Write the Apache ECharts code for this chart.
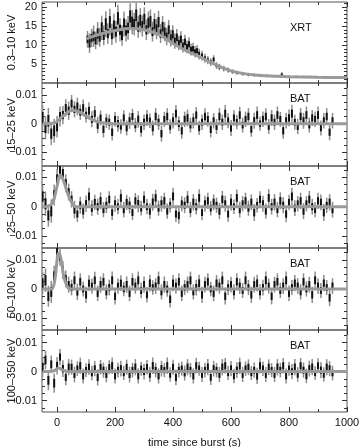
<!DOCTYPE html>
<html>
<head>
<meta charset="utf-8">
<script src="https://cdn.jsdelivr.net/npm/echarts@6/dist/echarts.min.js"></script>
<style>
  html, body { margin: 0; padding: 0; background: #fff; }
  #chart { width: 360px; height: 447px; }
</style>
</head>
<body>
<div id="chart"></div>
<script>
// XRT light curve (counts/s)
const xrtTime = [105,112,119,126,133,140,147,154,161,168,175,182,189,196,203,210,217,224,231,238,
  245,252,259,266,273,280,287,294,301,308,315,322,329,336,343,350,357,364,371,378,
  385,392,399,406,413,420,427,434,441,448,455,462,469,476,483,490,
  500,510,520,530,540,550,560,575,590,605,620,640,660,680,700,
  725,750,775,800,825,850,875,900,925,950]
const xrtRate = [11.5,10.5,11.8,12.3,11.2,13.0,12.0,14.5,12.5,15.5,13.0,16.0,12.8,15.0,13.5,17.0,14.0,12.5,15.5,13.8,
  14.5,17.5,16.0,15.5,17.8,14.8,16.5,15.0,16.8,14.0,15.8,16.2,13.5,15.5,14.2,16.0,13.0,14.8,13.5,12.2,
  14.0,11.8,12.8,11.0,12.0,10.5,11.5,9.8,10.8,9.5,10.2,8.8,9.0,8.2,8.5,7.6,
  7.2,6.5,6.0,5.5,6.2,4.6,4.2,3.8,3.4,3.0,2.7,2.4,2.2,2.1,2.0,
  1.9,1.8,2.3,1.7,1.7,1.6,1.6,1.5,1.6,1.5]
const xrtErr = [2.2,2.6,2.4,2.8,2.3,3.0,2.5,3.2,2.6,3.4,2.7,3.5,2.8,3.2,2.9,3.6,3.0,2.7,3.3,2.9,
  3.1,3.5,3.2,3.0,3.4,2.9,3.2,2.8,3.1,2.7,3.0,3.1,2.6,2.9,2.7,3.0,2.5,2.8,2.5,2.3,
  2.6,2.2,2.4,2.0,2.2,1.9,2.1,1.8,1.9,1.7,1.8,1.6,1.6,1.5,1.5,1.4,
  1.3,1.2,1.1,1.0,1.1,0.9,0.85,0.75,0.7,0.6,0.55,0.5,0.45,0.45,0.4,
  0.4,0.35,0.5,0.35,0.3,0.3,0.3,0.3,0.3,0.3]
const xrtModelTime = [100,150,200,250,300,350,400,450,500,550,600,650,700,750,800,900,1000]
const xrtModel = [11.6,12.9,13.8,14.3,14.0,12.8,10.4,8.3,6.6,4.7,3.2,2.4,2.0,1.8,1.65,1.5,1.45]

// BAT light curves (values in 1e-3 counts/s/det)
const batTime = [-50,-40,-30,-20,-10,0,10,20,30,40,50,60,70,80,90,100,110,120,130,140,
  150,160,170,180,190,200,210,220,230,240,250,260,270,280,290,300,310,320,330,340,
  350,360,370,380,390,400,410,420,430,440,450,460,470,480,490,500,510,520,530,540,
  550,560,570,580,590,600,610,620,630,640,650,660,670,680,690,700,710,720,730,740,
  750,760,770,780,790,800,810,820,830,840,850,860,870,880,890,900,910,920,930,940,950]

const bat15 = [2.0,-1.5,1.0,-3.5,-2.5,-1.0,2.5,3.0,5.5,4.5,
  7.0,5.0,6.0,4.0,5.5,3.0,4.5,1.5,3.5,-0.5,
  2.0,-2.0,1.0,0.5,-3.0,1.5,0.0,-1.0,2.0,-1.5,
  1.0,2.5,-0.5,1.5,-2.0,0.5,2.0,1.0,-1.5,2.5,
  0.5,-3.5,1.5,2.5,-1.0,1.0,3.5,0.0,-2.5,1.5,
  2.0,-0.5,1.0,3.0,-1.5,0.5,2.5,1.5,-2.0,1.0,
  -1.0,2.5,0.5,3.5,1.0,-1.5,2.0,0.5,3.0,-0.5,
  1.5,2.5,-2.0,1.0,3.0,0.0,1.5,2.5,-1.0,2.0,
  0.5,3.0,1.5,-2.5,1.0,2.0,3.5,0.5,-1.0,2.5,
  1.0,3.0,-0.5,2.0,1.5,3.0,-1.5,1.0,2.5,-3.0,1.0]
const bat15Err = [4.5,4.0,4.5,4.0,4.2,3.8,3.5,3.2,3.0,3.2,
  3.0,2.8,3.1,2.7,2.9,2.6,3.0,2.8,2.7,2.9,
  2.6,2.8,2.5,2.7,2.9,2.6,2.8,2.5,2.7,2.6,
  2.8,2.7,2.5,2.9,2.6,2.7,2.8,2.5,2.6,2.9,
  2.7,2.8,2.6,2.9,2.5,2.7,3.0,2.6,2.8,2.7,
  2.9,2.6,2.7,2.8,2.5,2.7,2.9,2.6,2.8,2.7,
  2.6,2.9,2.7,3.0,2.6,2.8,2.7,2.5,2.9,2.6,
  2.7,2.9,2.6,2.8,3.0,2.5,2.7,2.9,2.6,2.8,
  2.7,3.0,2.6,2.8,2.7,2.9,3.1,2.6,2.7,2.9,
  2.8,3.0,2.6,2.8,2.7,3.0,2.6,2.7,2.9,2.8,2.7]
const bat15ModelTime = [-50,-10,0,20,40,55,70,90,110,130,160,200,1000]
const bat15Model = [0,0.2,0.8,2.6,4.2,4.7,4.4,3.3,2.0,1.0,0.2,0,0]

const bat25 = [3.5,1.0,-3.0,-1.5,4.0,9.5,12.5,11.5,8.0,5.0,
  2.5,-1.0,-2.5,0.5,-1.5,1.0,3.5,-0.5,1.5,0.0,
  2.0,-1.0,0.5,2.5,-2.0,1.0,0.0,3.0,-1.0,1.5,
  0.5,-2.0,2.0,1.0,-0.5,2.5,0.0,-1.5,1.5,3.0,
  -0.5,1.0,2.0,-1.5,0.5,3.5,-2.5,-3.0,1.0,0.5,
  2.5,-1.0,1.5,0.0,3.0,-2.0,1.0,2.0,-0.5,1.5,
  0.5,-1.5,2.5,1.0,-2.5,1.5,0.0,3.0,-1.0,1.0,
  2.0,-0.5,1.5,-2.0,0.5,2.5,1.0,-1.5,3.0,0.0,
  1.5,-1.0,2.0,0.5,-2.5,1.5,3.5,-0.5,1.0,2.0,
  -1.5,1.0,2.5,0.0,-1.0,2.0,1.5,-2.0,0.5,1.5,-1.0]
const bat25Err = [4.0,4.2,3.8,4.0,3.6,3.4,3.2,3.0,3.1,2.9,
  2.8,3.0,2.7,2.9,2.6,2.8,3.0,2.7,2.6,2.8,
  2.9,2.6,2.7,2.8,2.5,2.7,2.6,2.9,2.7,2.6,
  2.8,2.6,2.7,2.9,2.5,2.8,2.6,2.7,2.9,2.8,
  2.6,2.7,2.8,2.6,2.5,3.0,2.7,2.8,2.6,2.7,
  2.9,2.6,2.8,2.7,3.0,2.6,2.7,2.8,2.5,2.7,
  2.6,2.8,2.9,2.7,2.6,2.8,2.5,2.9,2.7,2.6,
  2.8,2.6,2.7,2.9,2.5,2.8,2.7,2.6,3.0,2.7,
  2.8,2.6,2.9,2.7,2.8,2.6,3.0,2.7,2.6,2.8,
  2.7,2.6,2.9,2.7,2.6,2.8,2.7,2.9,2.6,2.8,2.7]
const bat25ModelTime = [-50,-30,-15,0,10,20,35,50,65,1000]
const bat25Model = [0,0.2,1.5,7.0,10.8,9.5,5.0,1.5,0,0]

const bat50 = [2.0,3.0,-2.5,-1.0,4.5,13.0,11.0,6.5,3.5,1.5,
  0.5,3.0,-1.0,2.5,0.0,-2.0,2.0,1.0,3.0,-1.5,
  1.5,2.5,-1.0,0.5,3.0,-2.5,1.0,2.0,0.0,1.5,
  -1.5,2.5,1.0,3.0,-0.5,1.5,-2.0,2.0,0.5,1.0,
  3.0,-1.0,1.5,0.0,-3.5,2.0,1.0,2.5,-1.5,0.5,
  1.5,3.0,-1.0,0.5,2.0,-2.0,1.5,2.5,0.0,-1.5,
  2.0,1.0,3.0,-2.5,0.5,1.5,-1.0,2.5,1.0,-0.5,
  3.0,0.5,-2.0,1.5,2.0,-1.0,0.5,3.0,1.0,-2.5,
  1.5,2.5,-0.5,1.0,3.0,-1.5,0.5,2.0,1.0,-1.0,
  2.5,0.0,1.5,-2.0,3.0,1.0,-0.5,2.0,0.5,-3.0,1.0]
const bat50Err = [3.8,4.0,3.6,3.8,3.5,3.2,3.0,3.1,2.9,2.8,
  2.7,3.0,2.8,2.9,2.6,2.8,2.7,2.6,2.9,2.7,
  2.8,2.9,2.6,2.7,3.0,2.8,2.6,2.7,2.5,2.8,
  2.7,2.9,2.6,3.0,2.7,2.8,2.6,2.9,2.5,2.7,
  3.0,2.6,2.8,2.7,2.9,2.8,2.6,2.9,2.7,2.6,
  2.8,3.0,2.6,2.7,2.9,2.8,2.7,2.9,2.5,2.7,
  2.8,2.6,3.0,2.8,2.6,2.7,2.6,2.9,2.7,2.6,
  3.0,2.6,2.8,2.7,2.9,2.6,2.7,3.0,2.6,2.8,
  2.7,2.9,2.6,2.7,3.0,2.7,2.6,2.8,2.7,2.6,
  2.9,2.6,2.7,2.8,3.0,2.7,2.6,2.8,2.6,2.9,2.7]
const bat50ModelTime = [-50,-20,-8,0,5,12,22,32,45,1000]
const bat50Model = [0,0,3.0,10.0,12.4,11.0,5.0,1.5,0,0]

const bat100 = [1.5,4.0,-3.0,2.5,-4.0,2.0,5.0,1.0,-2.0,1.5,
  1.5,-1.0,1.0,2.0,-1.5,0.5,1.5,-0.5,1.0,-2.0,
  1.5,0.5,-1.0,1.5,2.0,-1.5,0.5,1.0,-0.5,1.5,
  -1.0,0.5,1.5,-1.5,1.0,0.0,1.5,-1.0,2.0,0.5,
  -1.5,1.0,0.5,2.0,-1.0,1.5,-2.0,0.5,1.0,-0.5,
  1.5,0.5,-1.5,2.0,1.0,-1.0,0.5,1.5,-2.0,1.0,
  0.5,-1.0,1.5,2.0,-0.5,1.0,-1.5,0.5,2.0,-1.0,
  1.0,1.5,-0.5,0.5,-1.5,2.0,1.0,-1.0,1.5,0.5,
  -1.0,1.5,0.5,2.0,-1.5,1.0,0.0,1.5,-1.0,2.0,
  0.5,-1.5,1.0,1.5,-0.5,2.0,0.5,-1.0,1.5,1.0,-0.5]
const bat100Err = [3.5,3.2,3.4,3.0,3.3,3.0,2.8,2.9,2.7,2.8,
  2.6,2.7,2.5,2.8,2.6,2.4,2.7,2.5,2.6,2.8,
  2.5,2.6,2.7,2.4,2.8,2.6,2.5,2.7,2.4,2.6,
  2.7,2.5,2.8,2.6,2.4,2.7,2.5,2.6,2.8,2.5,
  2.6,2.7,2.4,2.8,2.5,2.6,2.7,2.5,2.4,2.6,
  2.8,2.5,2.6,2.7,2.4,2.6,2.5,2.8,2.6,2.7,
  2.5,2.6,2.8,2.7,2.4,2.6,2.5,2.7,2.8,2.6,
  2.5,2.7,2.4,2.6,2.8,2.7,2.5,2.6,2.7,2.4,
  2.6,2.8,2.5,2.7,2.6,2.4,2.6,2.8,2.5,2.7,
  2.6,2.5,2.7,2.8,2.4,2.6,2.7,2.5,2.8,2.6,2.5]
const bat100ModelTime = [-50,-10,5,20,40,1000]
const bat100Model = [0,0.3,1.2,0.5,0,0]

// axis ticks
const xMajor = [0, 200, 400, 600, 800, 1000]
const xMinor = [100, 300, 500, 700, 900]
const xrtMajor = [5, 10, 15, 20]
const xrtMinor = [1, 2, 3, 4, 6, 7, 8, 9, 11, 12, 13, 14, 16, 17, 18, 19, 21]
const batMajor = [-0.01, 0, 0.01]
const batMinor = [-0.0125, -0.0075, -0.005, -0.0025, 0.0025, 0.005, 0.0075, 0.0125]

const FONT = 'Liberation Sans, Arial, Helvetica, sans-serif'
const AX = '#333'
const X_MIN = -52
const X_MAX = 1000

const toPts = (t, v, e, k) => t.map((x, i) => [x, v[i] * k, e[i] * k])
const toLine = (t, v, k) => t.map((x, i) => [x, v[i] * k])

const panels = [
  { name: '0.3–10 keV', tag: 'XRT', tagY: 29, top: 2, height: 81, min: 0, max: 21.3,
    major: xrtMajor, minor: xrtMinor, pts: toPts(xrtTime, xrtRate, xrtErr, 1), model: toLine(xrtModelTime, xrtModel, 1) },
  { name: '15–25 keV', tag: 'BAT', tagY: 100, top: 83, height: 83, min: -0.0148, max: 0.0142,
    major: batMajor, minor: batMinor, pts: toPts(batTime, bat15, bat15Err, 0.001), model: toLine(bat15ModelTime, bat15Model, 0.001) },
  { name: '25–50 keV', tag: 'BAT', tagY: 183, top: 166, height: 82, min: -0.0141, max: 0.0139,
    major: batMajor, minor: batMinor, pts: toPts(batTime, bat25, bat25Err, 0.001), model: toLine(bat25ModelTime, bat25Model, 0.001) },
  { name: '50–100 keV', tag: 'BAT', tagY: 265, top: 248, height: 82, min: -0.0141, max: 0.0141,
    major: batMajor, minor: batMinor, pts: toPts(batTime, bat50, bat50Err, 0.001), model: toLine(bat50ModelTime, bat50Model, 0.001) },
  { name: '100–350 keV', tag: 'BAT', tagY: 347, top: 330, height: 82, min: -0.0139, max: 0.0143,
    major: batMajor, minor: batMinor, pts: toPts(batTime, bat100, bat100Err, 0.001), model: toLine(bat100ModelTime, bat100Model, 0.001) },
]

const fmtY = v => {
  if (Math.abs(v) < 1e-9) return '0'
  return (v < 0 ? '−' : '') + String(Math.abs(v))
}

function renderErr(params, api) {
  const t = api.value(0), v = api.value(1), e = api.value(2)
  const a = api.coord([t, v + e]), b = api.coord([t, v - e])
  const c = api.coord([t, v + e * 0.45]), d = api.coord([t, v - e * 0.45])
  return {
    type: 'group',
    children: [
      { type: 'line', shape: { x1: a[0], y1: a[1], x2: b[0], y2: b[1] }, style: { stroke: '#8c8c8c', lineWidth: 1.5 } },
      { type: 'line', shape: { x1: c[0], y1: c[1], x2: d[0], y2: d[1] }, style: { stroke: '#111', lineWidth: 2 } },
    ],
  }
}

const grid = [], xAxis = [], yAxis = [], series = [], graphic = []
panels.forEach((p, i) => {
  const last = i === panels.length - 1
  grid.push({ left: 42, width: 305, top: p.top, height: p.height, show: true, borderColor: '#555', borderWidth: 1,
    backgroundColor: 'transparent', containLabel: false, outerBoundsMode: 'none' })
  const xb = { gridIndex: i, type: 'value', min: X_MIN, max: X_MAX, splitLine: { show: false }, axisLine: { show: false, onZero: false } }
  const tick = (vals, len) => ({ inside: true, length: len, customValues: vals, lineStyle: { color: AX, width: 1 } })
  xAxis.push(
    { ...xb, position: 'bottom', axisTick: tick(xMajor, 5),
      axisLabel: { show: last, customValues: xMajor, formatter: v => String(v), color: '#111', fontSize: 11, fontFamily: FONT, margin: 5 },
      name: last ? 'time since burst (s)' : '', nameLocation: 'middle', nameGap: 25, nameMoveOverlap: false,
      nameTextStyle: { color: '#111', fontSize: 11, fontFamily: FONT } },
    { ...xb, position: 'bottom', axisTick: tick(xMinor, 3), axisLabel: { show: false } },
    { ...xb, position: 'top', axisTick: tick(xMajor, 5), axisLabel: { show: false } },
    { ...xb, position: 'top', axisTick: tick(xMinor, 3), axisLabel: { show: false } },
  )
  const yb = { gridIndex: i, type: 'value', min: p.min, max: p.max, splitLine: { show: false }, axisLine: { show: false, onZero: false } }
  yAxis.push(
    { ...yb, position: 'left', axisTick: tick(p.major, 5),
      axisLabel: { customValues: p.major, formatter: fmtY, color: '#111', fontSize: 11, fontFamily: FONT, margin: 5 },
      name: p.name, nameLocation: 'middle', nameGap: 25, nameRotate: 90, nameMoveOverlap: false,
      nameTextStyle: { color: '#111', fontSize: 11, fontFamily: FONT } },
    { ...yb, position: 'left', axisTick: tick(p.minor, 3), axisLabel: { show: false } },
    { ...yb, position: 'right', axisTick: tick(p.major, 5), axisLabel: { show: false } },
    { ...yb, position: 'right', axisTick: tick(p.minor, 3), axisLabel: { show: false } },
  )
  series.push(
    { type: 'custom', xAxisIndex: i * 4, yAxisIndex: i * 4, data: p.pts, renderItem: renderErr,
      encode: { x: 0, y: 1 }, clip: true, silent: true, z: 2 },
    { type: 'line', xAxisIndex: i * 4, yAxisIndex: i * 4, data: p.model, smooth: 0.4, symbol: 'none',
      lineStyle: { color: '#9a9a9a', width: 3 }, clip: true, silent: true, z: 3 },
  )
  graphic.push({ type: 'text', left: 290, top: p.tagY - 7,
    style: { text: p.tag, fill: '#111', font: '11px ' + FONT } })
})

const chart = echarts.init(document.getElementById('chart'))
chart.setOption({
  animation: false,
  backgroundColor: '#fff',
  grid, xAxis, yAxis, series, graphic,
})
</script>
</body>
</html>
